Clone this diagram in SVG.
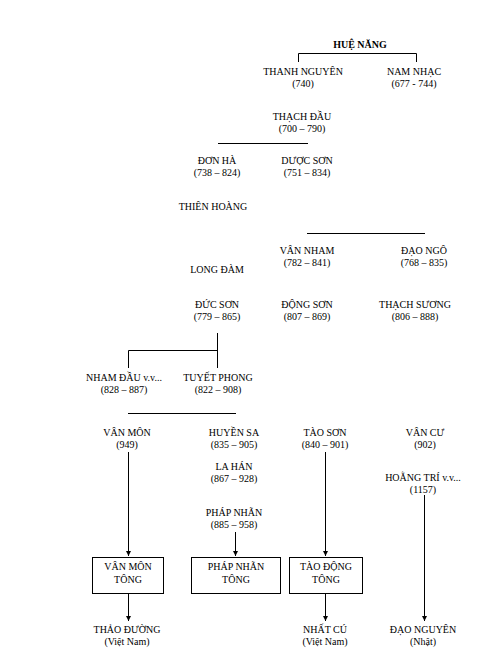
<svg xmlns="http://www.w3.org/2000/svg" width="495" height="671" viewBox="0 0 495 671">
<defs>
<style>
text{font-family:"Liberation Serif","Times New Roman",serif;font-size:10px;fill:#000;text-anchor:middle}
.b{font-weight:bold}
.ln{stroke:#000;stroke-width:1;fill:none}
.box{stroke:#000;stroke-width:1;fill:#fff}
</style>
<marker id="ah" viewBox="0 0 8 8" refX="8" refY="4" markerWidth="5" markerHeight="5" orient="auto" markerUnits="userSpaceOnUse">
<path d="M0,0 L8,4 L0,8 Z" fill="#000"/>
</marker>
</defs>
<rect width="495" height="671" fill="#fff"/>
<g id="connectors">
<path class="ln" d="M298.5,62 V53.5 H416.5 V62"/>
<path class="ln" d="M218,143.5 H308"/>
<path class="ln" d="M307,233.5 H425"/>
<path class="ln" d="M217.5,333 V368 M217.5,350.5 H128.5 V368"/>
<path class="ln" d="M128,413.5 H236"/>
<path class="ln" d="M128.5,452 V556" marker-end="url(#ah)"/>
<path class="ln" d="M235.5,532 V556" marker-end="url(#ah)"/>
<path class="ln" d="M325.5,452 V556" marker-end="url(#ah)"/>
<path class="ln" d="M128.5,593 V621" marker-end="url(#ah)"/>
<path class="ln" d="M325.5,593 V621" marker-end="url(#ah)"/>
<path class="ln" d="M424.5,495 V621" marker-end="url(#ah)"/>
</g>
<g id="hue-nang"><text class="b" x="360" y="48">HUỆ NĂNG</text></g>
<g id="thanh-nguyen"><text x="303" y="75">THANH NGUYÊN</text><text x="303" y="87">(740)</text></g>
<g id="nam-nhac"><text x="414" y="75">NAM NHẠC</text><text x="414" y="87">(677 - 744)</text></g>
<g id="thach-dau"><text x="302" y="120">THẠCH ĐẦU</text><text x="302" y="132">(700 – 790)</text></g>
<g id="don-ha"><text x="217" y="164">ĐƠN HÀ</text><text x="217" y="176">(738 – 824)</text></g>
<g id="duoc-son"><text x="307" y="164">DƯỢC SƠN</text><text x="307" y="176">(751 – 834)</text></g>
<g id="thien-hoang"><text x="213" y="210">THIÊN HOÀNG</text></g>
<g id="van-nham"><text x="307" y="254">VÂN NHAM</text><text x="307" y="266">(782 – 841)</text></g>
<g id="dao-ngo"><text x="424" y="254">ĐẠO NGÔ</text><text x="424" y="266">(768 – 835)</text></g>
<g id="long-dam"><text x="217" y="273">LONG ĐÀM</text></g>
<g id="duc-son"><text x="217" y="308">ĐỨC SƠN</text><text x="217" y="320">(779 – 865)</text></g>
<g id="dong-son"><text x="307" y="308">ĐỘNG SƠN</text><text x="307" y="320">(807 – 869)</text></g>
<g id="thach-suong"><text x="415" y="308">THẠCH SƯƠNG</text><text x="415" y="320">(806 – 888)</text></g>
<g id="nham-dau"><text x="124" y="381">NHAM ĐẦU v.v...</text><text x="124" y="393">(828 – 887)</text></g>
<g id="tuyet-phong"><text x="218" y="381">TUYẾT PHONG</text><text x="218" y="393">(822 – 908)</text></g>
<g id="van-mon"><text x="127" y="436">VÂN MÔN</text><text x="127" y="448">(949)</text></g>
<g id="huyen-sa"><text x="234" y="436">HUYỀN SA</text><text x="234" y="448">(835 – 905)</text></g>
<g id="tao-son"><text x="325" y="436">TÀO SƠN</text><text x="325" y="448">(840 – 901)</text></g>
<g id="van-cu"><text x="425" y="436">VÂN CƯ</text><text x="425" y="448">(902)</text></g>
<g id="la-han"><text x="234" y="470">LA HÁN</text><text x="234" y="482">(867 – 928)</text></g>
<g id="hoang-tri"><text x="423" y="481">HOẰNG TRÍ v.v...</text><text x="423" y="493">(1157)</text></g>
<g id="phap-nhan"><text x="234" y="516">PHÁP NHÃN</text><text x="234" y="528">(885 – 958)</text></g>
<g id="van-mon-tong"><rect class="box" x="92.5" y="557.5" width="71" height="36"/><text x="128" y="570">VÂN MÔN</text><text x="128" y="583">TÔNG</text></g>
<g id="phap-nhan-tong"><rect class="box" x="191.5" y="557.5" width="89" height="36"/><text x="236" y="570">PHÁP NHÃN</text><text x="236" y="583">TÔNG</text></g>
<g id="tao-dong-tong"><rect class="box" x="289.5" y="557.5" width="73" height="36"/><text x="326" y="570">TÀO ĐỘNG</text><text x="326" y="583">TÔNG</text></g>
<g id="thao-duong"><text x="127" y="633">THẢO ĐƯỜNG</text><text x="127" y="645">(Việt Nam)</text></g>
<g id="nhat-cu"><text x="325" y="633">NHẤT CÚ</text><text x="325" y="645">(Việt Nam)</text></g>
<g id="dao-nguyen"><text x="423" y="633">ĐẠO NGUYÊN</text><text x="423" y="645">(Nhật)</text></g>
</svg>
